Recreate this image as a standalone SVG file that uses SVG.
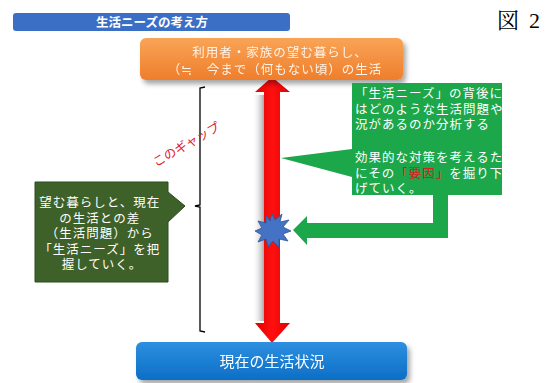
<svg xmlns="http://www.w3.org/2000/svg" width="559" height="383" viewBox="0 0 559 383">
<style>
.jp{font-family:"Liberation Sans","Noto Sans CJK JP",sans-serif}
.w{fill:#ffffff}
.t13{font-size:12.5px;letter-spacing:1px}
</style>
<defs>
<linearGradient id="og" x1="0" y1="0" x2="0" y2="1"><stop offset="0" stop-color="#F9A457"/><stop offset="1" stop-color="#EE7E2C"/></linearGradient>
<linearGradient id="bg" x1="0" y1="0" x2="0" y2="1"><stop offset="0" stop-color="#2E8FE0"/><stop offset="1" stop-color="#0B6FC6"/></linearGradient>
<linearGradient id="rg" x1="0" y1="0" x2="1" y2="0"><stop offset="0" stop-color="#E00000"/><stop offset="0.5" stop-color="#FF1010"/><stop offset="1" stop-color="#E00000"/></linearGradient>
<linearGradient id="sg" x1="0" y1="0" x2="1" y2="0"><stop offset="0" stop-color="#ffffff" stop-opacity="0"/><stop offset="1" stop-color="#A8A8A8"/></linearGradient>
<filter id="sh" x="-10%" y="-20%" width="125%" height="160%"><feDropShadow dx="3" dy="4" stdDeviation="2.5" flood-color="#000" flood-opacity="0.35"/></filter>
<clipPath id="gc"><rect x="280" y="80" width="222" height="120"/></clipPath>
</defs>

<g id="title">
<rect x="13" y="13" width="277" height="18" rx="3" fill="#3B6FC6"/>
<text class="jp w" x="152" y="26.5" font-size="12.5" font-weight="bold" text-anchor="middle">生活ニーズの考え方</text>
</g>

<g id="fig-label" font-family="'Liberation Serif','Noto Serif CJK JP','Noto Sans CJK JP',serif" font-size="22" fill="#000">
<text x="497" y="28">図</text>
<text x="529" y="28">2</text>
</g>

<g id="connectors">
<rect x="252" y="95" width="12" height="226" fill="url(#sg)"/>
<polygon points="272,77 290,92 280,92 280,323 290,323 272,343 255,323 264,323 264,92 255,92" fill="url(#rg)"/>
<path d="M205,87 L200,88 L200,205 L195,206 L200,207 L200,331 L205,332" fill="none" stroke="#000" stroke-width="1.3"/>
<polygon points="433,195 448,195 448,238 307,238 307,245 293,230 307,216 307,223 433,223" fill="#1CA74B"/>
</g>

<g id="wish-box" filter="url(#sh)">
<rect x="140" y="38" width="263" height="42" rx="6" fill="url(#og)"/>
<text class="jp" x="280" y="57" font-size="12.5" letter-spacing="1" text-anchor="middle" fill="#FFF3E6">利用者・家族の望む暮らし、</text>
<text class="jp" x="275" y="74" font-size="12.5" letter-spacing="1" text-anchor="middle" fill="#FFF3E6">（≒　今まで（何もない頃）の生活</text>
</g>

<g id="current-box" filter="url(#sh)">
<rect x="136" y="342" width="271" height="38" rx="6" fill="url(#bg)"/>
<text class="jp w" x="272" y="367" font-size="15" text-anchor="middle">現在の生活状況</text>
</g>

<g id="left-callout">
<polygon points="35,182 168,182 168,192 185,206 168,222 168,282 35,282" fill="#3E6129" stroke="#2C4A1C" stroke-width="1"/>
<text class="jp w t13" text-anchor="middle">
<tspan x="102" y="207">望む暮らしと、現在</tspan>
<tspan x="102" y="222.5">の生活との差</tspan>
<tspan x="102" y="238">（生活問題）から</tspan>
<tspan x="102" y="253.5">「生活ニーズ」を把</tspan>
<tspan x="102" y="269">握していく。</tspan>
</text>
</g>

<g id="gap-label">
<text class="jp" x="186" y="149" font-size="12.5" fill="#E0202A" text-anchor="middle" transform="rotate(-30 186 144)">このギャップ</text>
</g>

<g id="right-callout">
<polygon points="352,83 502,83 502,195 352,195 352,177 281,158 352,149" fill="#1CA74B"/>
<g clip-path="url(#gc)">
<text class="jp w t13">
<tspan x="355" y="98">「生活ニーズ」の背後に</tspan>
<tspan x="355" y="113.5">はどのような生活問題や状</tspan>
<tspan x="355" y="129">況があるのか分析する</tspan>
<tspan x="355" y="162">効果的な対策を考えるため</tspan>
<tspan x="355" y="177.5">にその<tspan fill="#D42020">「要因」</tspan>を掘り下</tspan>
<tspan x="355" y="193">げていく。</tspan>
</text>
</g>
</g>

<g id="impact">
<polygon points="272,213 275,220 282,214 280,222 289,220 283,227 291,231 283,234 288,241 279,239 279,247 273,241 268,247 266,239 258,242 262,235 255,231 262,228 258,221 266,223 266,215 270,221" fill="#4472C4" stroke="#2F5597" stroke-width="0.8"/>
</g>
</svg>
